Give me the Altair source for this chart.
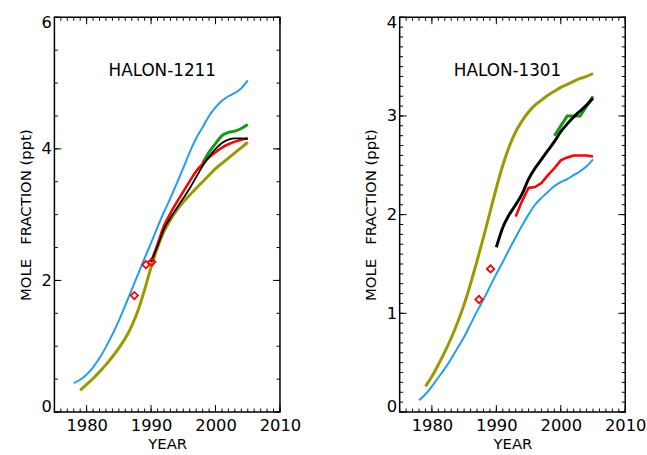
import altair as alt
import pandas as pd

FONT = "DejaVu Sans"

# ---------------- HALON-1211 ----------------
yrs_blue_1211 = list(range(1978, 2006))
blue_1211 = [0.44, 0.49, 0.57, 0.68, 0.82, 0.99, 1.18, 1.39, 1.62, 1.86, 2.10, 2.34,
             2.57, 2.81, 3.04, 3.25, 3.48, 3.71, 3.95, 4.16, 4.33, 4.50, 4.63, 4.73,
             4.80, 4.85, 4.92, 5.04]
yrs_olive_1211 = list(range(1979, 2006))
olive_1211 = [0.33, 0.42, 0.51, 0.61, 0.72, 0.84, 0.97, 1.12, 1.31, 1.55, 1.86, 2.20,
              2.50, 2.74, 2.92, 3.07, 3.19, 3.30, 3.40, 3.50, 3.60, 3.70, 3.78, 3.86,
              3.94, 4.02, 4.10]
yrs_black_1211 = list(range(1990, 2006))
black_1211 = [2.28, 2.52, 2.78, 2.95, 3.10, 3.25, 3.40, 3.57, 3.74, 3.88, 4.00, 4.09,
              4.14, 4.16, 4.16, 4.15]
yrs_red_1211 = list(range(1990, 2006))
red_1211 = [2.28, 2.55, 2.83, 3.02, 3.19, 3.35, 3.51, 3.66, 3.77, 3.87, 3.95, 4.02,
            4.07, 4.11, 4.14, 4.16]
yrs_green_1211 = list(range(1998, 2006))
green_1211 = [3.78, 3.95, 4.08, 4.20, 4.25, 4.27, 4.31, 4.37]
yrs_diam_1211 = [1987.4, 1989.2, 1990.1]
diam_1211 = [1.77, 2.24, 2.28]

# ---------------- HALON-1301 ----------------
yrs_blue_1301 = list(range(1978, 2006))
blue_1301 = [0.12, 0.18, 0.26, 0.35, 0.44, 0.54, 0.65, 0.76, 0.89, 1.02, 1.14, 1.27,
             1.40, 1.52, 1.65, 1.77, 1.89, 2.00, 2.10, 2.17, 2.23, 2.29, 2.33, 2.36,
             2.40, 2.44, 2.49, 2.56]
yrs_olive_1301 = list(range(1979, 2006))
olive_1301 = [0.26, 0.36, 0.48, 0.61, 0.75, 0.91, 1.09, 1.30, 1.53, 1.77, 2.02, 2.27,
              2.50, 2.69, 2.84, 2.95, 3.04, 3.11, 3.16, 3.21, 3.25, 3.29, 3.32, 3.35,
              3.38, 3.40, 3.43]
yrs_black_1301 = list(range(1990, 2006))
black_1301 = [1.67, 1.87, 2.00, 2.10, 2.21, 2.36, 2.47, 2.56, 2.65, 2.74, 2.84, 2.92,
              2.99, 3.05, 3.11, 3.18]
yrs_red_1301 = list(range(1993, 2006))
red_1301 = [1.98, 2.14, 2.27, 2.28, 2.32, 2.40, 2.47, 2.55, 2.58, 2.60, 2.60, 2.60, 2.59]
yrs_green_1301 = list(range(1999, 2006))
green_1301 = [2.80, 2.90, 3.00, 3.00, 3.00, 3.10, 3.20]
yrs_diam_1301 = [1987.3, 1989.1]
diam_1301 = [1.14, 1.45]

# ---------------- axes / ticks ----------------
x_domain = [1975, 2010]
x_labels = [1980, 1990, 2000, 2010]
x_minor = list(range(1975, 2011))
y_labels_1211 = [0, 2, 4, 6]
y_minor_1211 = [i * 0.5 for i in range(13)]
y_labels_1301 = [0, 1, 2, 3, 4]
y_minor_1301 = [round(i * 0.1, 1) for i in range(41)]

W, H = 228, 399
MAJ, MIN = 7, 3.5

BLUE = "#1E9EF0"
OLIVE = "#9A9A00"
GREEN = "#109A10"
RED = "#FF0000"
BLACK = "#000000"


def panel(title, ymax, ylabels, yminor, ymajor, series, diam_x, diam_y):
    xs = alt.Scale(domain=x_domain, nice=False, zero=False)
    ys = alt.Scale(domain=[0, ymax], nice=False, zero=True)
    xaxis = alt.Axis(values=x_labels, format="d", ticks=False, tickSize=0, grid=False,
                     domain=False, labelFlush=False, labelPadding=6, title="YEAR",
                     titlePadding=2, labelFontSize=16.5, titleFontSize=15,
                     labelFont=FONT, titleFont=FONT, labelColor="black",
                     titleColor="black", titleFontWeight="normal")
    yaxis = alt.Axis(values=ylabels, format="d", ticks=False, tickSize=0, grid=False,
                     domain=False, labelFlush=True, labelFlushOffset=3, labelPadding=3,
                     title="MOLE\u00a0\u00a0\u00a0FRACTION (ppt)", titlePadding=8,
                     labelFontSize=16.5, titleFontSize=15, labelFont=FONT,
                     titleFont=FONT, labelColor="black", titleColor="black",
                     titleFontWeight="normal")
    X = lambda f: alt.X(f, scale=xs, axis=xaxis)
    Y = lambda f: alt.Y(f, scale=ys, axis=yaxis)
    layers = []
    for yrs, vals, color, sw, interp in series:
        df = pd.DataFrame({"year": yrs, "value": vals})
        layers.append(
            alt.Chart(df).mark_line(color=color, strokeWidth=sw, interpolate=interp,
                                    clip=True).encode(x=X("year:Q"), y=Y("value:Q"))
        )
    ddf = pd.DataFrame({"year": diam_x, "value": diam_y})
    layers.append(
        alt.Chart(ddf).mark_point(shape="diamond", filled=False, color=RED, size=55,
                                  strokeWidth=1.8, opacity=1).encode(
            x=X("year:Q"), y=Y("value:Q"))
    )
    # inward ticks on all four sides
    xmin_df = pd.DataFrame({"year": x_minor})
    xmaj_df = pd.DataFrame({"year": x_labels})
    ymin_df = pd.DataFrame({"value": yminor})
    ymaj_df = pd.DataFrame({"value": ymajor})
    for d, ln in ((xmin_df, MIN), (xmaj_df, MAJ)):
        layers.append(alt.Chart(d).mark_rule(color="black", strokeWidth=1).encode(
            x=X("year:Q"), y=alt.value(H), y2=alt.value(H - ln)))
        layers.append(alt.Chart(d).mark_rule(color="black", strokeWidth=1).encode(
            x=X("year:Q"), y=alt.value(0), y2=alt.value(ln)))
    for d, ln in ((ymin_df, MIN), (ymaj_df, MAJ)):
        layers.append(alt.Chart(d).mark_rule(color="black", strokeWidth=1).encode(
            y=Y("value:Q"), x=alt.value(0), x2=alt.value(ln)))
        layers.append(alt.Chart(d).mark_rule(color="black", strokeWidth=1).encode(
            y=Y("value:Q"), x=alt.value(W - ln), x2=alt.value(W)))
    tdf = pd.DataFrame({"label": [title]})
    layers.append(alt.Chart(tdf).mark_text(font=FONT, fontSize=17, color="black",
                                           align="center", baseline="middle").encode(
        text="label:N", x=alt.value(109), y=alt.value(54)))
    return alt.layer(*layers).properties(width=W, height=H)


left = panel(
    "HALON-1211", 6, y_labels_1211, y_minor_1211, y_labels_1211,
    [
        (yrs_blue_1211, blue_1211, BLUE, 2, "monotone"),
        (yrs_olive_1211, olive_1211, OLIVE, 3, "monotone"),
        (yrs_green_1211, green_1211, GREEN, 3, "monotone"),
        (yrs_red_1211, red_1211, RED, 2.6, "monotone"),
        (yrs_black_1211, black_1211, BLACK, 1.8, "monotone"),
    ],
    yrs_diam_1211, diam_1211,
)
right = panel(
    "HALON-1301", 4, y_labels_1301, y_minor_1301, y_labels_1301,
    [
        (yrs_blue_1301, blue_1301, BLUE, 2, "monotone"),
        (yrs_olive_1301, olive_1301, OLIVE, 3, "monotone"),
        (yrs_green_1301, green_1301, GREEN, 3, "linear"),
        (yrs_red_1301, red_1301, RED, 2.6, "linear"),
        (yrs_black_1301, black_1301, BLACK, 3, "monotone"),
    ],
    yrs_diam_1301, diam_1301,
)

chart = alt.hconcat(left, right, spacing=61).properties(
    padding={"left": 17, "top": 11, "right": 0, "bottom": 0},
    background="white",
).configure_view(stroke="black", strokeWidth=1.5)

chart.save("out.html", embed_options={"renderer": "svg", "actions": False})
